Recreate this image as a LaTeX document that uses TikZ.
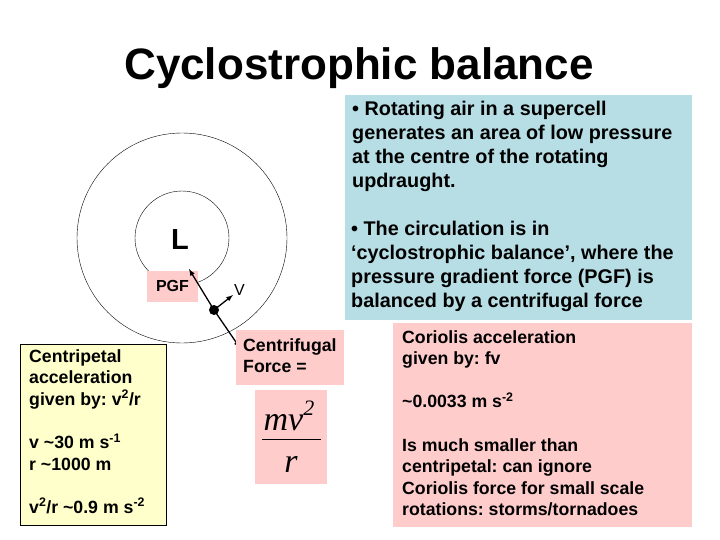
\documentclass[tikz,border=0pt]{standalone}
\usepackage{fontspec}
\setmainfont{Liberation Sans}
\newfontfamily\serifit{Liberation Serif}
\frenchspacing
\definecolor{bluebox}{HTML}{B7DEE5}
\definecolor{pinkbox}{HTML}{FFCCCC}
\definecolor{yellowbox}{HTML}{FFFFCC}
\begin{document}
\begin{tikzpicture}[x=1pt,y=-1pt,
  txt/.style={font=\bfseries\fontsize{17.7}{21.6}\selectfont,align=left,anchor=north west,inner sep=0pt},
  big/.style={font=\bfseries\fontsize{19.8}{24}\selectfont,align=left,anchor=north west,inner sep=0pt},
  fr/.style={font=\serifit\itshape\fontsize{34}{36}\selectfont,inner sep=0pt},
  arr/.style={-latex,line width=1.3pt}]
\useasboundingbox (0,0) rectangle (720,540);
\node[font=\bfseries\fontsize{44}{50}\selectfont] (title) at (359,68) {Cyclostrophic balance};
\draw (182,238) circle[radius=105];
\draw (182,238) circle[radius=47];
\fill[bluebox] (345,95) rectangle (692,320);
\node[big] (t1) at (352,101) {• Rotating air in a supercell\\generates an area of low pressure\\at the centre of the rotating\\updraught.};
\node[big] (t2) at (351,221) {• The circulation is in\\‘cyclostrophic balance’, where the\\pressure gradient force (PGF) is\\balanced by a centrifugal force};
\node[font=\bfseries\fontsize{29}{30}\selectfont] (L) at (180,240) {L};
\node[fill=pinkbox,minimum width=51pt,minimum height=31pt,inner sep=0pt,font=\bfseries\fontsize{16}{18}\selectfont] (pgf) at (172.5,286) {PGF};
\node[font=\fontsize{16}{18}\selectfont,anchor=west,inner sep=0pt] (v) at (234,290) {V};
\fill (214,310) circle[radius=5];
\coordinate (dot) at (214,310);
\coordinate (pg) at (189,269);
\coordinate (cf) at (240,348);
\coordinate (vv) at (233,295);
\draw[arr] (dot) -- (pg);
\draw[arr] (dot) -- (vv);
\draw[arr] (dot) -- (cf);
\fill[pinkbox] (236,330) rectangle (344,385);
\node[txt] (cft) at (243,338) {Centrifugal\\Force =};
\fill[pinkbox] (255,390) rectangle (327,484);
\node[fr] (num) at (289,416) {mv\raisebox{0.45em}{\fontsize{22}{24}\selectfont 2}};
\coordinate (ra) at (262,439);
\coordinate (rb) at (321,439);
\draw[line width=0.6pt] (ra) -- (rb);
\node[fr] (den) at (291,464) {r};
\draw[fill=yellowbox] (20,344) rectangle (166,525);
\node[txt] (yc) at (29,349) {Centripetal\\acceleration\\given by: v\textsuperscript{2}/r\\[21.6pt]v \textasciitilde30 m s\textsuperscript{-1}\\r \textasciitilde1000 m\\[21.6pt]v\textsuperscript{2}/r \textasciitilde0.9 m s\textsuperscript{-2}};
\fill[pinkbox] (393,323) rectangle (692,527);
\node[txt] (rc) at (402,330) {Coriolis acceleration\\given by: fv\\[21.6pt]\textasciitilde0.0033 m s\textsuperscript{-2}\\[21.6pt]Is much smaller than\\centripetal: can ignore\\Coriolis force for small scale\\rotations: storms/tornadoes};
\end{tikzpicture}
\end{document}
